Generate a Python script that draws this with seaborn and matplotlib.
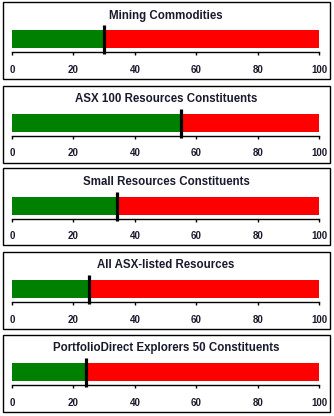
import matplotlib
matplotlib.use("Agg")
import matplotlib.pyplot as plt
from matplotlib.patches import Rectangle
import seaborn as sns
import pandas as pd

titles = ["Mining Commodities",
          "ASX 100 Resources Constituents",
          "Small Resources Constituents",
          "All ASX-listed Resources",
          "PortfolioDirect Explorers 50 Constituents"]
values = [30, 55, 34, 25, 24]
scale_max = [100, 100, 100, 100, 100]
tick_values = [0, 20, 40, 60, 80, 100]

sns.set_style("white")
plt.rcParams['font.family'] = ['Liberation Sans', 'DejaVu Sans']

W, H = 334, 416
fig = plt.figure(figsize=(W / 100, H / 100), dpi=100)
fig.patch.set_facecolor("white")

panel_tops = [2, 85.5, 168.5, 252, 335]
panel_h = 77
px = 100 / 72.0  # px per pt

for i, (title, v, mx) in enumerate(zip(titles, values, scale_max)):
    top = panel_tops[i]
    # border
    fig.patches.append(Rectangle((3 / W, 1 - (top + panel_h) / H), 327 / W, panel_h / H,
                                 transform=fig.transFigure, fill=False,
                                 edgecolor="black", linewidth=1.0, zorder=0))
    # title
    fig.text(166 / W, 1 - (top + 13.5) / H, title, ha="center", va="center",
             fontsize=8.3, fontweight="bold", color="#1a1a2e")
    ax_top = top + 23
    ax_bot = top + 50
    ax = fig.add_axes([12 / W, 1 - ax_bot / H, 307.5 / W, (ax_bot - ax_top) / H])
    df_full = pd.DataFrame({"cat": [title], "val": [mx]})
    df_val = pd.DataFrame({"cat": [title], "val": [v]})
    sns.barplot(data=df_full, x="val", y="cat", orient="h", color="#FF0000",
                saturation=1, width=0.8, ax=ax, linewidth=0)
    sns.barplot(data=df_val, x="val", y="cat", orient="h", color="#008000",
                saturation=1, width=0.8, ax=ax, linewidth=0)
    upp = 0.8 / 18.0  # units per px
    ax.set_ylim(0.4 + 4 * upp, -0.4 - 5 * upp)
    ax.set_xlim(0, mx)
    ax.plot([v, v], [0.4 + 6 * upp, -0.4 - 5 * upp], color="black",
            linewidth=3.2 / px, clip_on=False, solid_capstyle="butt", zorder=5)
    for s in ["top", "left", "right"]:
        ax.spines[s].set_visible(False)
    ax.spines["bottom"].set_linewidth(1.0)
    ax.spines["bottom"].set_color("black")
    ax.set_xticks(tick_values)
    ax.set_xticklabels([str(t) for t in tick_values], fontsize=7, fontweight="bold",
                       color="#1a1a2e")
    ax.tick_params(axis="x", direction="out", length=3 / px, width=1.0,
                   pad=7.0, bottom=True, colors="black", labelcolor="#1a1a2e")
    ax.set_yticks([])
    ax.set_xlabel("")
    ax.set_ylabel("")
    ax.set_facecolor("none")

fig.savefig("out.png", dpi=100, facecolor="white")
